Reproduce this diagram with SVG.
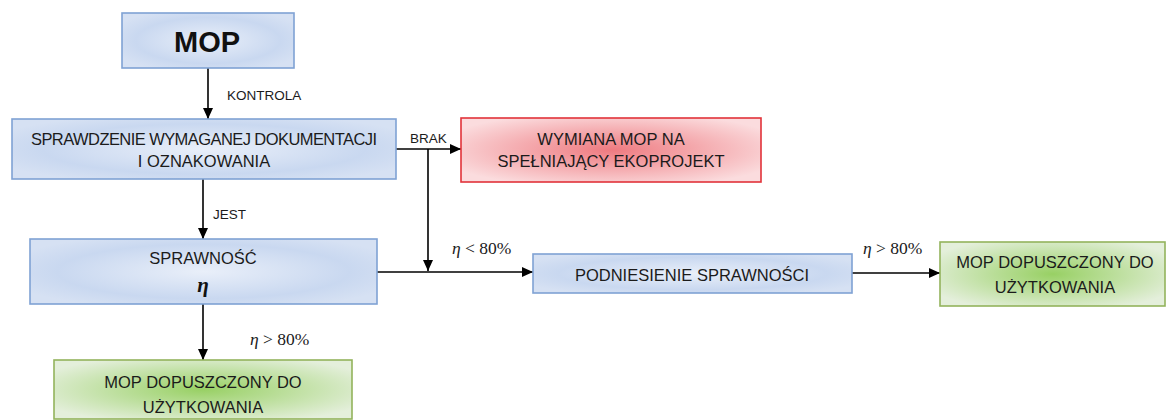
<svg xmlns="http://www.w3.org/2000/svg" width="1166" height="420" viewBox="0 0 1166 420">
<defs>
<radialGradient id="gBlue" cx="50%" cy="50%" r="60%">
<stop offset="0" stop-color="#e9eff9"/>
<stop offset="0.7" stop-color="#c9d8f0"/>
<stop offset="1" stop-color="#d6e1f3"/>
</radialGradient>
<radialGradient id="gRed" cx="50%" cy="50%" r="60%">
<stop offset="0" stop-color="#ee7a80"/>
<stop offset="1" stop-color="#fbdcde"/>
</radialGradient>
<radialGradient id="gGreen" cx="50%" cy="50%" r="60%">
<stop offset="0" stop-color="#98d064"/>
<stop offset="1" stop-color="#e4efdb"/>
</radialGradient>
<marker id="arr" markerUnits="userSpaceOnUse" markerWidth="12" markerHeight="10" refX="11" refY="5" orient="auto">
<path d="M0,0 L11,5 L0,10 Z" fill="#000"/>
</marker>
</defs>
<style>
.blue{fill:url(#gBlue);stroke:#7fa2d4;stroke-width:1.6}
.red{fill:url(#gRed);stroke:#e2333a;stroke-width:1.6}
.green{fill:url(#gGreen);stroke:#93b35c;stroke-width:1.6}
.t{font-family:"Liberation Sans",Arial,sans-serif;font-size:16.5px;fill:#1b1b1b;text-anchor:middle}
.lbl{font-family:"Liberation Sans",Arial,sans-serif;font-size:13.5px;fill:#1b1b1b}
.m{font-family:"Liberation Serif","Times New Roman",serif;font-size:17.5px;fill:#1b1b1b}
.c{stroke:#000;stroke-width:1.6;fill:none}
</style>
<g id="connectors">
<line class="c" x1="208" y1="68" x2="208" y2="119" marker-end="url(#arr)"/>
<line class="c" x1="396" y1="149" x2="461" y2="149" marker-end="url(#arr)"/>
<line class="c" x1="428" y1="149" x2="428" y2="271" marker-end="url(#arr)"/>
<line class="c" x1="203" y1="179" x2="203" y2="239" marker-end="url(#arr)"/>
<line class="c" x1="377" y1="272" x2="533" y2="272" marker-end="url(#arr)"/>
<line class="c" x1="203" y1="304" x2="203" y2="360" marker-end="url(#arr)"/>
<line class="c" x1="852" y1="273" x2="940" y2="273" marker-end="url(#arr)"/>
<text class="lbl" x="227" y="100">KONTROLA</text>
<text class="lbl" x="410" y="143">BRAK</text>
<text class="lbl" x="213" y="219">JEST</text>
<text class="m" x="452" y="254"><tspan font-style="italic">η</tspan> &lt; 80%</text>
<text class="m" x="250" y="345"><tspan font-style="italic">η</tspan> &gt; 80%</text>
<text class="m" x="863" y="254"><tspan font-style="italic">η</tspan> &gt; 80%</text>
</g>
<g id="mop">
<rect class="blue" x="122" y="13" width="172" height="55"/>
<text x="207" y="52" font-family="Liberation Sans,Arial,sans-serif" font-size="29" font-weight="bold" fill="#111" text-anchor="middle">MOP</text>
</g>
<g id="sprawdzenie">
<rect class="blue" x="12" y="119" width="384" height="60"/>
<text class="t" x="204" y="145" textLength="346">SPRAWDZENIE WYMAGANEJ DOKUMENTACJI</text>
<text class="t" x="204" y="167">I OZNAKOWANIA</text>
</g>
<g id="wymiana">
<rect class="red" x="461" y="118" width="300" height="64"/>
<text class="t" x="611" y="145">WYMIANA MOP NA</text>
<text class="t" x="611" y="167">SPEŁNIAJĄCY EKOPROJEKT</text>
</g>
<g id="sprawnosc">
<rect class="blue" x="30" y="239" width="347" height="65"/>
<text class="t" x="203" y="264">SPRAWNOŚĆ</text>
<text x="203" y="292" font-family="Liberation Serif,Times New Roman,serif" font-size="21" font-style="italic" font-weight="bold" fill="#111" text-anchor="middle">η</text>
</g>
<g id="podniesienie">
<rect class="blue" x="533" y="254" width="319" height="39"/>
<text class="t" x="692" y="281">PODNIESIENIE SPRAWNOŚCI</text>
</g>
<g id="dopuszczony1">
<rect class="green" x="940" y="242" width="225" height="64"/>
<text class="t" x="1055" y="268">MOP DOPUSZCZONY DO</text>
<text class="t" x="1055" y="293">UŻYTKOWANIA</text>
</g>
<g id="dopuszczony2">
<rect class="green" x="54" y="360" width="298" height="59"/>
<text class="t" x="203" y="388">MOP DOPUSZCZONY DO</text>
<text class="t" x="203" y="413">UŻYTKOWANIA</text>
</g>
</svg>
